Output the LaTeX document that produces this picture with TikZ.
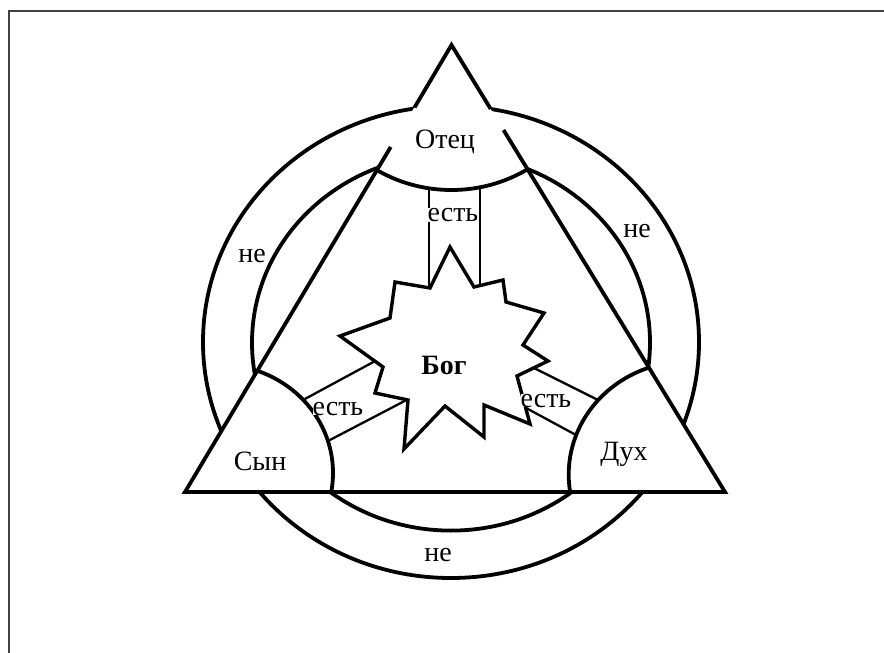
\documentclass[tikz,border=0pt]{standalone}
\usepackage{fontspec}
\setmainfont{Liberation Serif}
\begin{document}
\begin{tikzpicture}[x=1pt,y=-1pt,line join=miter,
  main/.style={line width=3.8pt},
  link/.style={line width=2.3pt},
  lbl/.style={font=\fontsize{28}{28}\selectfont,inner sep=0pt,anchor=base},
  esty/.style={lbl,fill=white}]
\useasboundingbox (0,0) rectangle (884,653);
% frame (only left and top edges visible)
\coordinate (f1) at (8.5,653);
\coordinate (f2) at (8.5,10.5);
\coordinate (f3) at (884,10.5);
\draw[line width=2pt,black!75] (f1) -- (f2) -- (f3);
% main points
\coordinate (A) at (451.5,45);
\coordinate (L) at (185,492);
\coordinate (R) at (725,492);
\coordinate (O) at (451,342);
\coordinate (Oi) at (451,342.6);
% circles
\draw[main] (O) ellipse [x radius=248pt,y radius=236pt];
\draw[main] (Oi) ellipse [x radius=199pt,y radius=188pt];
\fill[white] (A) -- (L) -- (R) -- cycle;
% connectors "есть"
\coordinate (t1a) at (429,188); \coordinate (t1b) at (429,296);
\coordinate (t2a) at (480,187); \coordinate (t2b) at (480,293);
\coordinate (l1a) at (303,400); \coordinate (l1b) at (390,353);
\coordinate (l2a) at (328,441); \coordinate (l2b) at (418,394);
\coordinate (r1a) at (598,400); \coordinate (r1b) at (520,361);
\coordinate (r2a) at (576,435); \coordinate (r2b) at (515,402);
\draw[link] (t1a) -- (t1b);
\draw[link] (t2a) -- (t2b);
\draw[link] (l1a) -- (l1b);
\draw[link] (l2a) -- (l2b);
\draw[link] (r1a) -- (r1b);
\draw[link] (r2a) -- (r2b);
% star
\draw[line width=3.4pt,fill=white] (450,247) -- (474,287) -- (503,280) -- (506,302) -- (544,313)
  -- (523,345) -- (548,361) -- (517,376) -- (530,424) -- (484,405) -- (484,437)
  -- (445,406) -- (404,449) -- (408,400) -- (375,393) -- (383,367) -- (340,336)
  -- (390,318) -- (395,282) -- (430,288) -- cycle;
% vertex arcs
\begin{scope}
\clip (A) -- (L) -- (R) -- cycle;
\coordinate (cO) at (451.5,50);
\coordinate (cS) at (219,473);
\coordinate (cD) at (687.7,474.5);
\draw[main] (cO) ellipse [x radius=145pt,y radius=140pt];
\draw[main] (cS) ellipse [x radius=114pt,y radius=108.5pt];
\draw[main] (cD) ellipse [x radius=119pt,y radius=113pt];
\end{scope}
% triangle (with erased gaps near the apex)
\coordinate (g1) at (414.5,107.5);
\coordinate (g2) at (490.7,109);
\coordinate (g3) at (390.7,147);
\coordinate (g4) at (503.5,130);
\draw[main] (g1) -- (A) -- (g2);
\draw[main] (g3) -- (L) -- (R) -- (g4);
% labels
\node[lbl] (otec) at (445,148) {Отец};
\node[lbl] (syn) at (260,470) {Сын};
\node[lbl] (duh) at (624,460) {Дух};
\node[lbl,font=\fontsize{28}{28}\selectfont\bfseries] (bog) at (444,374) {Бог};
\node[esty] (e1) at (453,221.5) {есть};
\node[esty] (e2) at (338,415) {есть};
\node[esty] (e3) at (546,407) {есть};
\node[lbl] (ne1) at (252,262) {не};
\node[lbl] (ne2) at (637,237) {не};
\node[lbl] (ne3) at (438,561) {не};
\end{tikzpicture}
\end{document}
